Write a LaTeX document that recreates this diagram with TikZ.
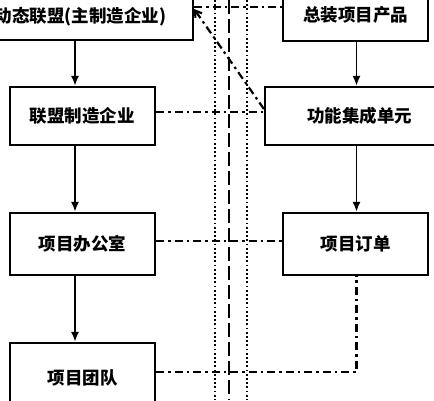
\documentclass[tikz,border=0pt]{standalone}
\usepackage{fontspec}
\setmainfont{Noto Sans CJK SC}
\usetikzlibrary{arrows.meta}
\begin{document}
\begin{tikzpicture}[x=1pt,y=-1pt]
	% size of each node
	\def\sz{58pt}
	\def\szwidth{145pt}
	\def\lw{2.2pt}
	% node style definition
	\tikzstyle{rect} = [draw, line width=\lw, rectangle, minimum height=\sz, minimum width=\szwidth, inner sep=0pt, font=\bfseries\fontsize{17.5}{20}\selectfont];
	\tikzstyle{arr} = [-{Latex[length=10pt,width=8pt]}, line width=1.9pt];
	\tikzstyle{link} = [line width=2.2pt, dash pattern=on 8pt off 4pt on 2.5pt off 4pt];
	\tikzstyle{border} = [line width=1.8pt, dash pattern=on 1.8pt off 2.4pt];
	\tikzstyle{split} = [line width=1.8pt, dash pattern=on 14pt off 5pt];
	\useasboundingbox (0,0) rectangle (434,400);
	\fill[white] (0,0) rectangle (434,400);
	% left column
	\node[rect, minimum width=225pt, minimum height=46pt] (alliance) at (80.5,17) {动态联盟(主制造企业)};
	\node[rect] (maker) at (82.5,116) {联盟制造企业};
	\node[rect, minimum height=62pt] (office) at (82.5,244) {项目办公室};
	\node[rect, minimum height=70pt] (team) at (82.5,378) {项目团队};
	% right column
	\node[rect, minimum height=52pt] (product) at (355.5,15) {总装项目产品};
	\node[rect, minimum width=189pt] (unit) at (359.5,116) {功能集成单元};
	\node[rect, minimum height=62pt] (order) at (355.5,244) {项目订单};
	\coordinate (lx) at (75,0);
	\coordinate (rx) at (356.5,0);
	\coordinate (ty) at (0,7);
	\coordinate (dy) at (0,9);
	\coordinate (ey) at (0,109);
	% boundary between the two sides
	\foreach \x in {215,247}
		\draw[border] (\x,0) -- (\x,400);
	\draw[split] (229,0) -- (229,400);
	\draw[arr] (alliance.south -| lx) -- (maker.north -| lx);
	\draw[arr] (maker.south -| lx) -- (office.north -| lx);
	\draw[arr] (office.south -| lx) -- (team.north -| lx);
	\draw[arr] (product.south -| rx) -- (unit.north -| rx);
	\draw[arr] (unit.south -| rx) -- (order.north -| rx);
	\draw[link] (alliance.east |- ty) -- (product.west |- ty);
	\draw[link, {Straight Barb[length=6pt,width=8pt]}-] (alliance.east |- dy) -- (unit.west |- ey);
	\draw[link] ([yshift=4pt]maker.east) -- ([yshift=4pt]unit.west);
	\draw[link] ([yshift=3pt]office.east) -- ([yshift=3pt]order.west);
	\draw[link] ([yshift=6pt]team.east) -| (order.south -| rx);
\end{tikzpicture}
\end{document}
